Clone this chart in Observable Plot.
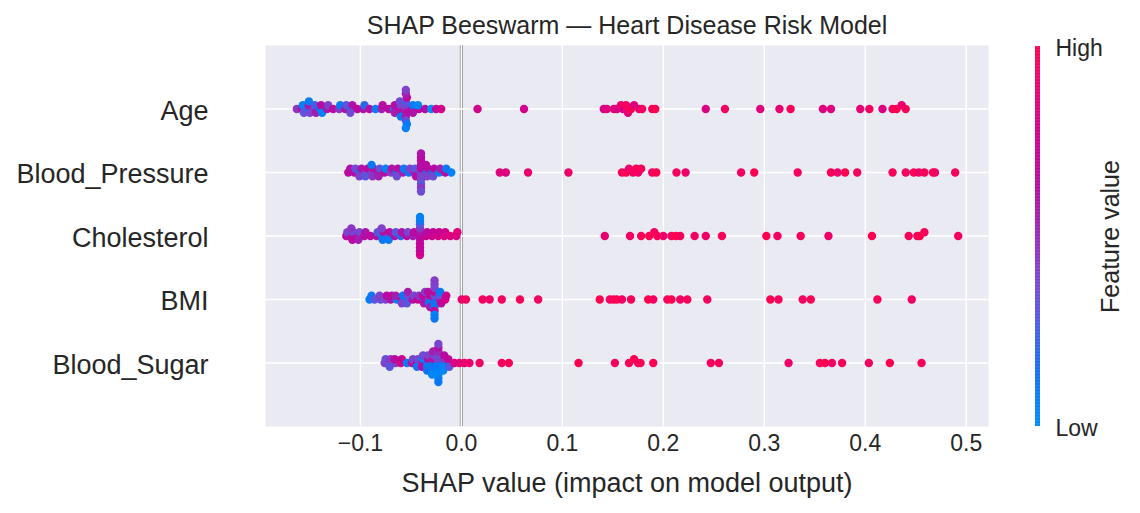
<!DOCTYPE html>
<html>
<head>
<meta charset="utf-8">
<script src="https://cdn.jsdelivr.net/npm/d3@7"></script>
<script src="https://cdn.jsdelivr.net/npm/@observablehq/plot@0.6"></script>
<style>
  html, body { margin: 0; padding: 0; background: white; }
  body { font-family: "Liberation Sans", Arial, sans-serif; }
  #wrap { position: relative; width: 1140px; height: 513px; overflow: hidden; }
</style>
</head>
<body>
<div id="wrap"></div>
<script>
const title = "SHAP Beeswarm — Heart Disease Risk Model";
const xLabel = "SHAP value (impact on model output)";
const colorLabel = "Feature value";
const features = ["Age", "Blood_Pressure", "Cholesterol", "BMI", "Blood_Sugar"];
const xTicks = [-0.1, 0.0, 0.1, 0.2, 0.3, 0.4, 0.5];
const colorStops = ["#008bfb", "#0a6ff0", "#5a58e0", "#8a3cc8", "#a816aa", "#c4009a", "#e0007c", "#ff0051"];

const ageShap = [
  -0.163, -0.158, -0.157, -0.156, -0.152, -0.151, -0.150, -0.151, -0.146, -0.145, -0.144,
  -0.140, -0.139, -0.138, -0.133, -0.132, -0.127, -0.121, -0.120, -0.115, -0.114,
  -0.109, -0.108, -0.110, -0.103, -0.097, -0.096, -0.091, -0.085, -0.079, -0.078, -0.072,
  -0.067, -0.066, -0.066, -0.061, -0.060, -0.060, -0.061, -0.060,
  -0.055, -0.055, -0.054, -0.055, -0.055, -0.054, -0.055, -0.055, -0.054, -0.055, -0.055,
  -0.049, -0.048, -0.048, -0.042, -0.043, -0.036, -0.030, -0.025, -0.020,
  0.016, 0.062,
  0.141, 0.144, 0.151, 0.154, 0.158, 0.160, 0.163, 0.165, 0.168, 0.171, 0.176, 0.179, 0.189, 0.192,
  0.242, 0.261, 0.296, 0.315, 0.326, 0.358, 0.366, 0.395, 0.404, 0.417, 0.427, 0.431, 0.436, 0.440
];
const ageValue = [
  0.45, 0.6, 0.05, 0.32, 0.2, 0.65, 0.38, 0.08, 0.42, 0.25, 0.55,
  0.15, 0.65, 0.05, 0.6, 0.4, 0.65, 0.45, 0.1, 0.62, 0.3,
  0.1, 0.6, 0.35, 0.66, 0.6, 0.2, 0.65, 0.08, 0.55, 0.65, 0.66,
  0.3, 0.62, 0.55, 0.65, 0.4, 0.62, 0.35, 0.1,
  0.45, 0.38, 0.65, 0.3, 0.6, 0.66, 0.35, 0.55, 0.1, 0.4, 0.05,
  0.65, 0.08, 0.6, 0.68, 0.02, 0.65, 0.0, 0.72, 0.78,
  0.78, 0.78,
  0.8, 0.85, 0.9, 0.8, 0.92, 0.85, 0.95, 0.88, 1.0, 0.85, 0.9, 0.95, 0.98, 1.0,
  0.82, 0.95, 0.85, 0.9, 0.97, 0.85, 0.85, 0.88, 0.95, 0.82, 0.95, 1.0, 0.9, 0.97
];

const bpShap = [
  -0.112, -0.110, -0.106, -0.105, -0.100, -0.099, -0.101, -0.094, -0.093, -0.095,
  -0.088, -0.087, -0.088, -0.089, -0.082, -0.081, -0.082, -0.076, -0.075, -0.070, -0.069,
  -0.064, -0.063, -0.064, -0.058, -0.057, -0.052, -0.051, -0.046, -0.046, -0.045,
  -0.040, -0.040, -0.040, -0.040, -0.040, -0.040, -0.040, -0.040, -0.040, -0.040, -0.040,
  -0.034, -0.033, -0.034, -0.035, -0.028, -0.027, -0.028, -0.022, -0.021, -0.016, -0.015, -0.010,
  0.038, 0.044, 0.066, 0.106, 0.159, 0.163, 0.166, 0.170, 0.173, 0.175, 0.178, 0.189, 0.193,
  0.213, 0.222, 0.277, 0.290, 0.333, 0.366, 0.3725, 0.380, 0.392,
  0.427, 0.440, 0.448, 0.453, 0.4585, 0.467, 0.469, 0.489
];
const bpValue = [
  0.66, 0.62, 0.65, 0.35, 0.1, 0.6, 0.4, 0.38, 0.66, 0.3,
  0.35, 0.65, 0.45, 0.1, 0.62, 0.32, 0.55, 0.65, 0.05, 0.42, 0.6,
  0.1, 0.65, 0.35, 0.55, 0.08, 0.12, 0.4, 0.62, 0.3, 0.65,
  0.35, 0.66, 0.4, 0.65, 0.38, 0.62, 0.3, 0.66, 0.45, 0.6, 0.35,
  0.08, 0.6, 0.4, 0.65, 0.1, 0.66, 0.35, 0.05, 0.55, 0.7, 0.1, 0.05,
  0.85, 0.85, 0.9, 0.92, 0.95, 1.0, 0.9, 0.97, 1.0, 0.92, 0.98, 0.95, 1.0,
  0.95, 0.92, 0.95, 1.0, 0.95, 0.97, 0.93, 1.0, 0.95,
  0.97, 0.95, 1.0, 0.92, 0.98, 1.0, 0.95, 0.97
];

const cholShap = [
  -0.114, -0.113, -0.108, -0.107, -0.108, -0.109, -0.102, -0.101, -0.102, -0.096, -0.095,
  -0.090, -0.084, -0.083, -0.078, -0.077, -0.078, -0.079, -0.072, -0.071, -0.072,
  -0.066, -0.065, -0.060, -0.059, -0.054, -0.053, -0.048, -0.047,
  -0.041, -0.041, -0.041, -0.041, -0.041, -0.041, -0.041, -0.041, -0.041, -0.041, -0.041,
  -0.035, -0.034, -0.029, -0.028, -0.023, -0.022, -0.017, -0.016, -0.011, -0.005, -0.004,
  0.142, 0.167, 0.178, 0.186, 0.191, 0.194, 0.200, 0.208, 0.2125, 0.2167, 0.231, 0.242, 0.258,
  0.302, 0.313, 0.336, 0.3635, 0.4066, 0.443, 0.4515, 0.454, 0.4585, 0.492
];
const cholValue = [
  0.65, 0.4, 0.6, 0.35, 0.66, 0.45, 0.66, 0.38, 0.55, 0.65, 0.6,
  0.66, 0.62, 0.3, 0.05, 0.66, 0.1, 0.4, 0.35, 0.65, 0.08,
  0.62, 0.3, 0.2, 0.6, 0.65, 0.38, 0.55, 0.66,
  0.65, 0.6, 0.66, 0.45, 0.7, 0.3, 0.72, 0.1, 0.7, 0.05, 0.78,
  0.75, 0.65, 0.78, 0.72, 0.8, 0.74, 0.82, 0.78, 0.84, 0.82, 0.86,
  0.9, 0.95, 0.97, 1.0, 0.95, 0.98, 0.92, 0.95, 1.0, 0.97, 0.95, 0.93, 0.97,
  1.0, 0.95, 0.97, 0.93, 1.0, 0.97, 0.95, 1.0, 0.97, 0.95
];

const bmiShap = [
  -0.091, -0.089, -0.086, -0.080, -0.081, -0.075, -0.074, -0.070, -0.069, -0.064, -0.065,
  -0.059, -0.058, -0.059, -0.054, -0.053, -0.054, -0.053, -0.048, -0.047, -0.043, -0.042,
  -0.037, -0.038, -0.037, -0.036, -0.032, -0.031, -0.032, -0.033, -0.031,
  -0.0266, -0.0266, -0.0266, -0.0266, -0.0266, -0.0266, -0.0266, -0.0266, -0.0266, -0.0266, -0.0266,
  -0.021, -0.022, -0.020, -0.021, -0.016, -0.015,
  0.0003, 0.0045, 0.021, 0.028, 0.040, 0.058, 0.076,
  0.137, 0.147, 0.1506, 0.154, 0.159, 0.168, 0.185, 0.190, 0.204, 0.208, 0.2167, 0.2237, 0.2435,
  0.306, 0.314, 0.338, 0.346, 0.412, 0.446
];
const bmiValue = [
  0.08, 0.1, 0.3, 0.35, 0.4, 0.38, 0.65, 0.6, 0.66, 0.05, 0.55,
  0.6, 0.12, 0.4, 0.1, 0.35, 0.3, 0.55, 0.65, 0.38, 0.72, 0.45,
  0.35, 0.66, 0.6, 0.4, 0.4, 0.72, 0.1, 0.65, 0.55,
  0.55, 0.35, 0.15, 0.7, 0.1, 0.4, 0.72, 0.38, 0.05, 0.42, 0.1,
  0.78, 0.3, 0.7, 0.1, 0.8, 0.75,
  0.9, 0.95, 0.95, 0.93, 0.95, 0.97, 0.95,
  1.0, 0.95, 0.97, 1.0, 0.95, 0.97, 1.0, 0.95, 0.98, 1.0, 0.95, 0.97, 0.95,
  1.0, 0.97, 0.95, 0.98, 0.97, 0.95
];

const bsShap = [
  -0.076, -0.075, -0.071, -0.070, -0.071, -0.065, -0.066, -0.060, -0.059, -0.054,
  -0.049, -0.048, -0.044, -0.043, -0.044, -0.039, -0.038, -0.039, -0.038,
  -0.034, -0.033, -0.034, -0.033, -0.034,
  -0.028, -0.028, -0.029, -0.027, -0.028, -0.028, -0.029,
  -0.0228, -0.0228, -0.0228, -0.0228, -0.0228, -0.0228, -0.0228, -0.0228, -0.0228, -0.0228, -0.0228,
  -0.018, -0.017, -0.018, -0.017, -0.018, -0.012, -0.013, -0.012,
  -0.007, -0.002, 0.003, 0.008, 0.018,
  0.040, 0.047, 0.116, 0.152, 0.166, 0.171, 0.175, 0.1774, 0.190, 0.247, 0.255,
  0.324, 0.355, 0.360, 0.367, 0.377, 0.4035, 0.4243, 0.4557
];
const bsValue = [
  0.4, 0.35, 0.38, 0.45, 0.3, 0.4, 0.65, 0.8, 0.75, 0.08,
  0.65, 0.38, 0.66, 0.35, 0.1, 0.55, 0.05, 0.66, 0.35,
  0.1, 0.65, 0.08, 0.4, 0.12,
  0.05, 0.6, 0.1, 0.38, 0.08, 0.55, 0.02,
  0.05, 0.4, 0.1, 0.35, 0.08, 0.5, 0.02, 0.62, 0.05, 0.38, 0.1,
  0.1, 0.45, 0.05, 0.65, 0.02, 0.08, 0.7, 0.3,
  0.82, 0.86, 0.9, 0.92, 0.95,
  0.95, 0.97, 1.0, 0.95, 0.97, 1.0, 0.95, 0.98, 1.0, 0.95, 0.97,
  0.93, 0.97, 1.0, 0.95, 0.97, 0.95, 1.0, 0.97
];

const seriesShap = [ageShap, bpShap, cholShap, bmiShap, bsShap];
const seriesValue = [ageValue, bpValue, cholValue, bmiValue, bsValue];

// SHAP-style beeswarm vertical offsets (row units), following shap's binning layout
function swarmOffsets(values) {
  const nbins = 100, rowHeight = 0.4;
  const lo = d3.min(values), hi = d3.max(values);
  const quant = values.map(v => Math.round(nbins * (v - lo) / (hi - lo + 1e-8)));
  const inds = d3.range(values.length).sort((a, b) => quant[a] - quant[b] || a - b);
  const ys = new Array(values.length).fill(0);
  let layer = 0, last = -1;
  for (const i of inds) {
    if (quant[i] !== last) layer = 0;
    ys[i] = Math.ceil(layer / 2) * ((layer % 2) * 2 - 1);
    layer++;
    last = quant[i];
  }
  const m = d3.max(ys, y => y + 1);
  return ys.map(y => y * 0.9 * (rowHeight / m));
}

const rows = [];
features.forEach((f, fi) => {
  const s = seriesShap[fi], v = seriesValue[fi];
  const pos = features.length - 1 - fi;
  const off = swarmOffsets(s);
  s.forEach((x, i) => rows.push({feature: f, shap: x, value: v[i], y: pos + off[i]}));
});

const shapRedBlue = d3.interpolateRgbBasis(colorStops);
const colorOpts = {type: "linear", domain: [0, 1], interpolate: shapRedBlue};
const font = "'Liberation Sans', Arial, sans-serif";
const ink = "#262626";

const main = Plot.plot({
  width: 1140, height: 513,
  marginLeft: 265, marginRight: 152, marginTop: 45, marginBottom: 87,
  style: {fontFamily: font, color: ink, background: "white", overflow: "visible"},
  x: {domain: [-0.194, 0.522]},
  y: {domain: [-1, 5]},
  color: colorOpts,
  marks: [
    Plot.frame({fill: "#eaeaf2", stroke: null}),
    Plot.ruleX([0], {stroke: "#999999", strokeWidth: 3.2}),
    Plot.ruleX(xTicks, {stroke: "white", strokeWidth: 1.4}),
    Plot.ruleY(d3.range(features.length), {stroke: "white", strokeWidth: 1.4}),
    Plot.dot(rows, {x: "shap", y: "y", fill: "value", r: 4.2}),
    Plot.axisX({ticks: xTicks, tickFormat: d3.format(".1f"), tickSize: 0, tickPadding: 8, fontSize: 23, fill: ink, label: null}),
    Plot.axisY({ticks: d3.range(features.length), tickFormat: i => features[features.length - 1 - i], tickSize: 0, tickPadding: 57, dy: 2, fontSize: 27, fill: ink, label: null}),
    Plot.text([xLabel], {text: d => d, frameAnchor: "bottom", textAnchor: "middle", lineAnchor: "bottom", dy: 65, fontSize: 27, fill: ink}),
    Plot.text([title], {text: d => d, frameAnchor: "top", textAnchor: "middle", lineAnchor: "bottom", dy: -12, fontSize: 25, fill: ink})
  ]
});

const barSteps = d3.range(0, 1, 0.002);
const bar = Plot.plot({
  width: 120, height: 513,
  marginLeft: 15, marginRight: 100, marginTop: 46, marginBottom: 87,
  style: {fontFamily: font, color: ink, background: "transparent", overflow: "visible"},
  x: {domain: [0, 1], axis: null},
  y: {domain: [0, 1]},
  color: colorOpts,
  marks: [
    Plot.rect(barSteps, {x1: () => 0, x2: () => 1, y1: d => d, y2: d => Math.min(1, d + 0.003), fill: d => d}),
    Plot.axisY({anchor: "right", ticks: [0, 1], tickFormat: d => d ? "High" : "Low", tickSize: 0, tickPadding: 15, dy: 2, fontSize: 23, fill: ink, label: null}),
    Plot.text([colorLabel], {text: d => d, frameAnchor: "right", textAnchor: "middle", lineAnchor: "middle", rotate: -90, dx: 70, fontSize: 25, fill: ink})
  ]
});

const wrap = document.getElementById("wrap");
main.style.position = "absolute"; main.style.left = "0px"; main.style.top = "0px";
bar.style.position = "absolute"; bar.style.left = "1020px"; bar.style.top = "0px";
wrap.appendChild(main);
wrap.appendChild(bar);
</script>
</body>
</html>
